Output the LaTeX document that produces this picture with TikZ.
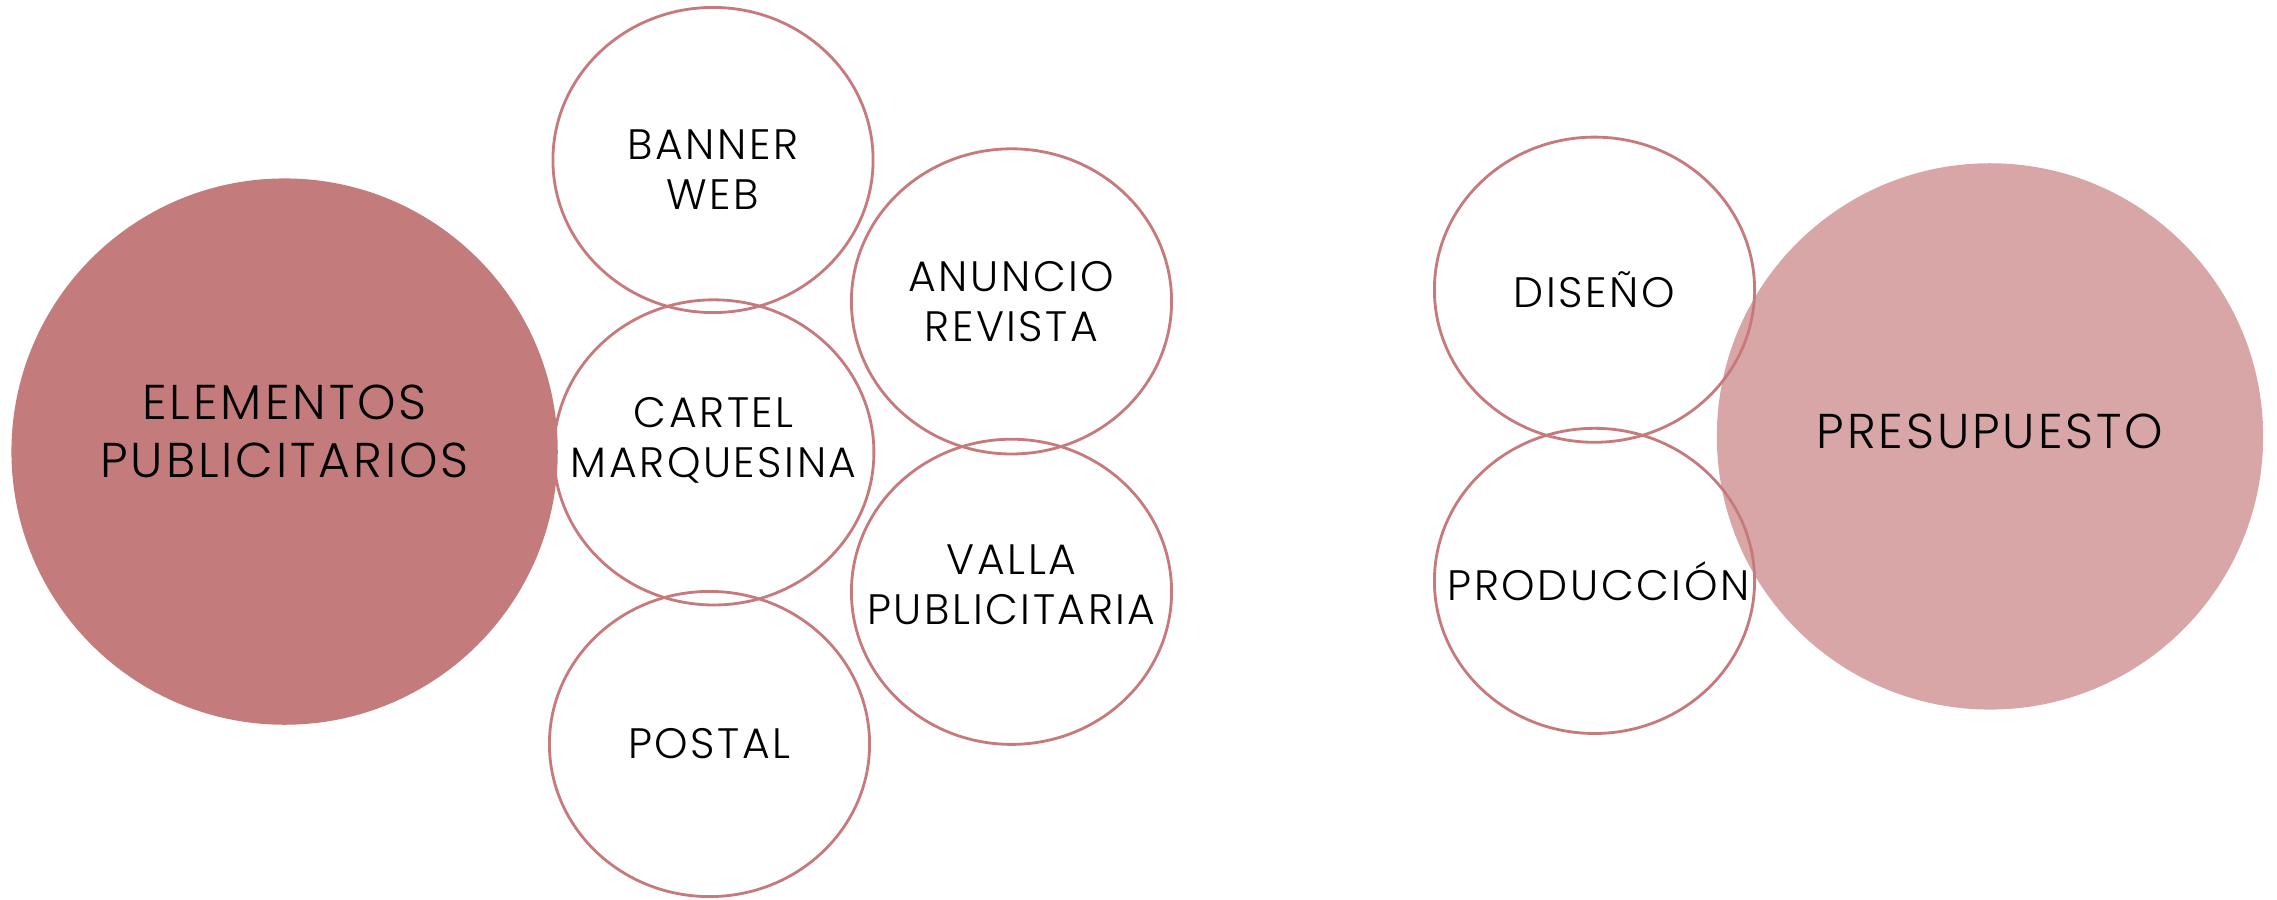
\documentclass[tikz,border=0pt]{standalone}
\usepackage{fontspec}
\setmainfont{Poppins}[UprightFont=* Light, LetterSpace=6]
\usetikzlibrary{shapes.geometric}
\definecolor{rosaosc}{RGB}{196,123,123}
\definecolor{rosacla}{RGB}{217,166,167}
\definecolor{borde}{RGB}{199,122,124}
\tikzset{
  grande/.style={circle, minimum size=5.46cm, inner sep=0pt},
  burbuja/.style={ellipse, draw=borde, line width=0.8pt, minimum width=3.2cm,
    minimum height=3.05cm, inner sep=0pt},
  texto/.style={align=center, inner sep=0pt, font=\fontsize{12.1pt}{14.2pt}\selectfont},
  textog/.style={align=center, inner sep=0pt, font=\fontsize{13.9pt}{16.5pt}\selectfont}
}
\begin{document}
\begin{tikzpicture}[x=0.01cm, y=-0.01cm]
  \useasboundingbox (0,0) rectangle (2277,900);
  % circulos grandes
  \node[grande, fill=rosaosc] (elementos) at (284.6,451.6) {};
  \node[grande, fill=rosacla] (presupuesto) at (1990,436.4) {};
  % burbujas izquierda
  \node[burbuja] (banner) at (713,160) {};
  \node[burbuja] (cartel) at (713.8,452.4) {};
  \node[burbuja] (postal) at (709.5,744) {};
  \node[burbuja] (anuncio) at (1011.5,301.4) {};
  \node[burbuja] (valla) at (1011.5,591.8) {};
  % burbujas derecha
  \node[burbuja] (diseno) at (1594.5,289.7) {};
  \node[burbuja] (produccion) at (1594.5,580.9) {};
  % textos
  \node[textog] (telementos) at ([yshift=0.2cm]elementos) {ELEMENTOS\\PUBLICITARIOS};
  \node[textog] (tpresupuesto) at ([yshift=0.05cm]presupuesto) {PRESUPUESTO};
  \node[texto] (tbanner) at ([yshift=-0.1cm]banner) {BANNER\\WEB};
  \node[texto] (tcartel) at ([yshift=0.12cm]cartel) {CARTEL\\MARQUESINA};
  \node[texto] (tpostal) at (postal) {POSTAL};
  \node[texto] (tanuncio) at (anuncio) {ANUNCIO\\REVISTA};
  \node[texto] (tvalla) at ([yshift=0.07cm]valla) {VALLA\\PUBLICITARIA};
  \node[texto] (tdiseno) at (diseno) {DISEÑO};
  \node[texto] (tproduccion) at ([xshift=0.04cm]produccion) {PRODUCCIÓN};
\end{tikzpicture}
\end{document}
